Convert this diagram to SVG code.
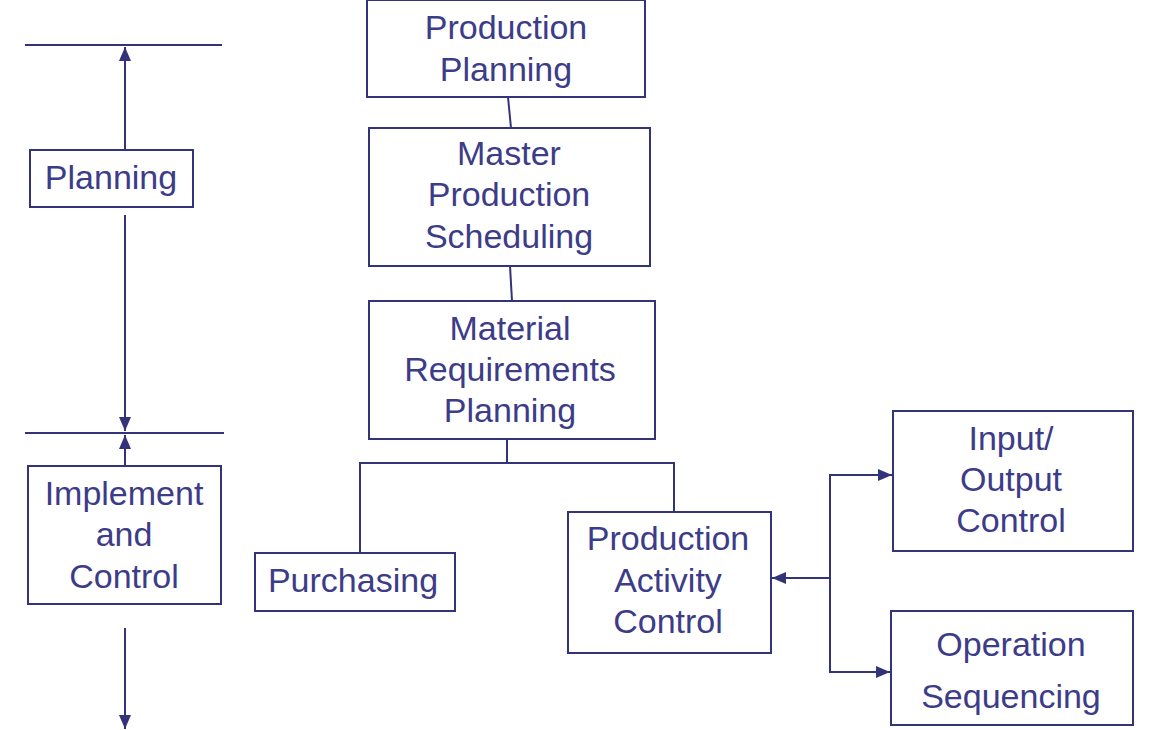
<svg xmlns="http://www.w3.org/2000/svg" width="1160" height="730" viewBox="0 0 1160 730">
<style>
.box{fill:#fff;stroke:#33337a;stroke-width:2}
.ln{fill:none;stroke:#33337a;stroke-width:2}
text{font-family:"Liberation Sans",Arial,sans-serif;font-size:34px;fill:#3c3c88;text-anchor:middle}
</style>
<defs>
<marker id="ah" viewBox="0 0 14 12" refX="14" refY="6" markerWidth="14" markerHeight="12" markerUnits="userSpaceOnUse" orient="auto">
<path d="M0,0 L14,6 L0,12 Z" fill="#33337a"/>
</marker>
</defs>
<rect width="1160" height="730" fill="#fff"/>
<g id="connectors">
<line class="ln" x1="25" y1="45" x2="222" y2="45"/>
<line class="ln" x1="25" y1="433" x2="224" y2="433"/>
<line class="ln" x1="125" y1="150" x2="125" y2="47" marker-end="url(#ah)"/>
<line class="ln" x1="125" y1="215" x2="125" y2="431" marker-end="url(#ah)"/>
<line class="ln" x1="125" y1="466" x2="125" y2="435" marker-end="url(#ah)"/>
<line class="ln" x1="125" y1="628" x2="125" y2="729" marker-end="url(#ah)"/>
<line class="ln" x1="508" y1="97" x2="511" y2="128"/>
<line class="ln" x1="510" y1="266" x2="512" y2="301"/>
<polyline class="ln" points="507,439 507,463"/>
<polyline class="ln" points="360,553 360,463 674,463 674,512"/>
<line class="ln" x1="830" y1="578" x2="772" y2="578" marker-end="url(#ah)"/>
<polyline class="ln" points="880,475 830,475 830,672 880,672"/>
<line class="ln" x1="860" y1="475" x2="892" y2="475" marker-end="url(#ah)"/>
<line class="ln" x1="860" y1="672" x2="890" y2="672" marker-end="url(#ah)"/>
</g>
<g id="planning">
<rect class="box" x="30" y="150" width="163" height="57"/>
<text x="111" y="189">Planning</text>
</g>
<g id="implement">
<rect class="box" x="28" y="466" width="193" height="138"/>
<text x="124" y="505">Implement</text>
<text x="124" y="546">and</text>
<text x="124" y="588">Control</text>
</g>
<g id="production-planning">
<rect class="box" x="367" y="0" width="278" height="97"/>
<text x="506" y="39">Production</text>
<text x="506" y="81">Planning</text>
</g>
<g id="mps">
<rect class="box" x="369" y="128" width="281" height="138"/>
<text x="509" y="165">Master</text>
<text x="509" y="206">Production</text>
<text x="509" y="248">Scheduling</text>
</g>
<g id="mrp">
<rect class="box" x="369" y="301" width="286" height="138"/>
<text x="510" y="340">Material</text>
<text x="510" y="381">Requirements</text>
<text x="510" y="422">Planning</text>
</g>
<g id="purchasing">
<rect class="box" x="255" y="553" width="200" height="58"/>
<text x="353" y="592">Purchasing</text>
</g>
<g id="pac">
<rect class="box" x="568" y="512" width="203" height="141"/>
<text x="668" y="550">Production</text>
<text x="668" y="592">Activity</text>
<text x="668" y="633">Control</text>
</g>
<g id="io-control">
<rect class="box" x="893" y="411" width="240" height="140"/>
<text x="1011" y="450">Input/</text>
<text x="1011" y="491">Output</text>
<text x="1011" y="532">Control</text>
</g>
<g id="op-seq">
<rect class="box" x="891" y="611" width="242" height="114"/>
<text x="1011" y="656">Operation</text>
<text x="1011" y="708">Sequencing</text>
</g>
</svg>
